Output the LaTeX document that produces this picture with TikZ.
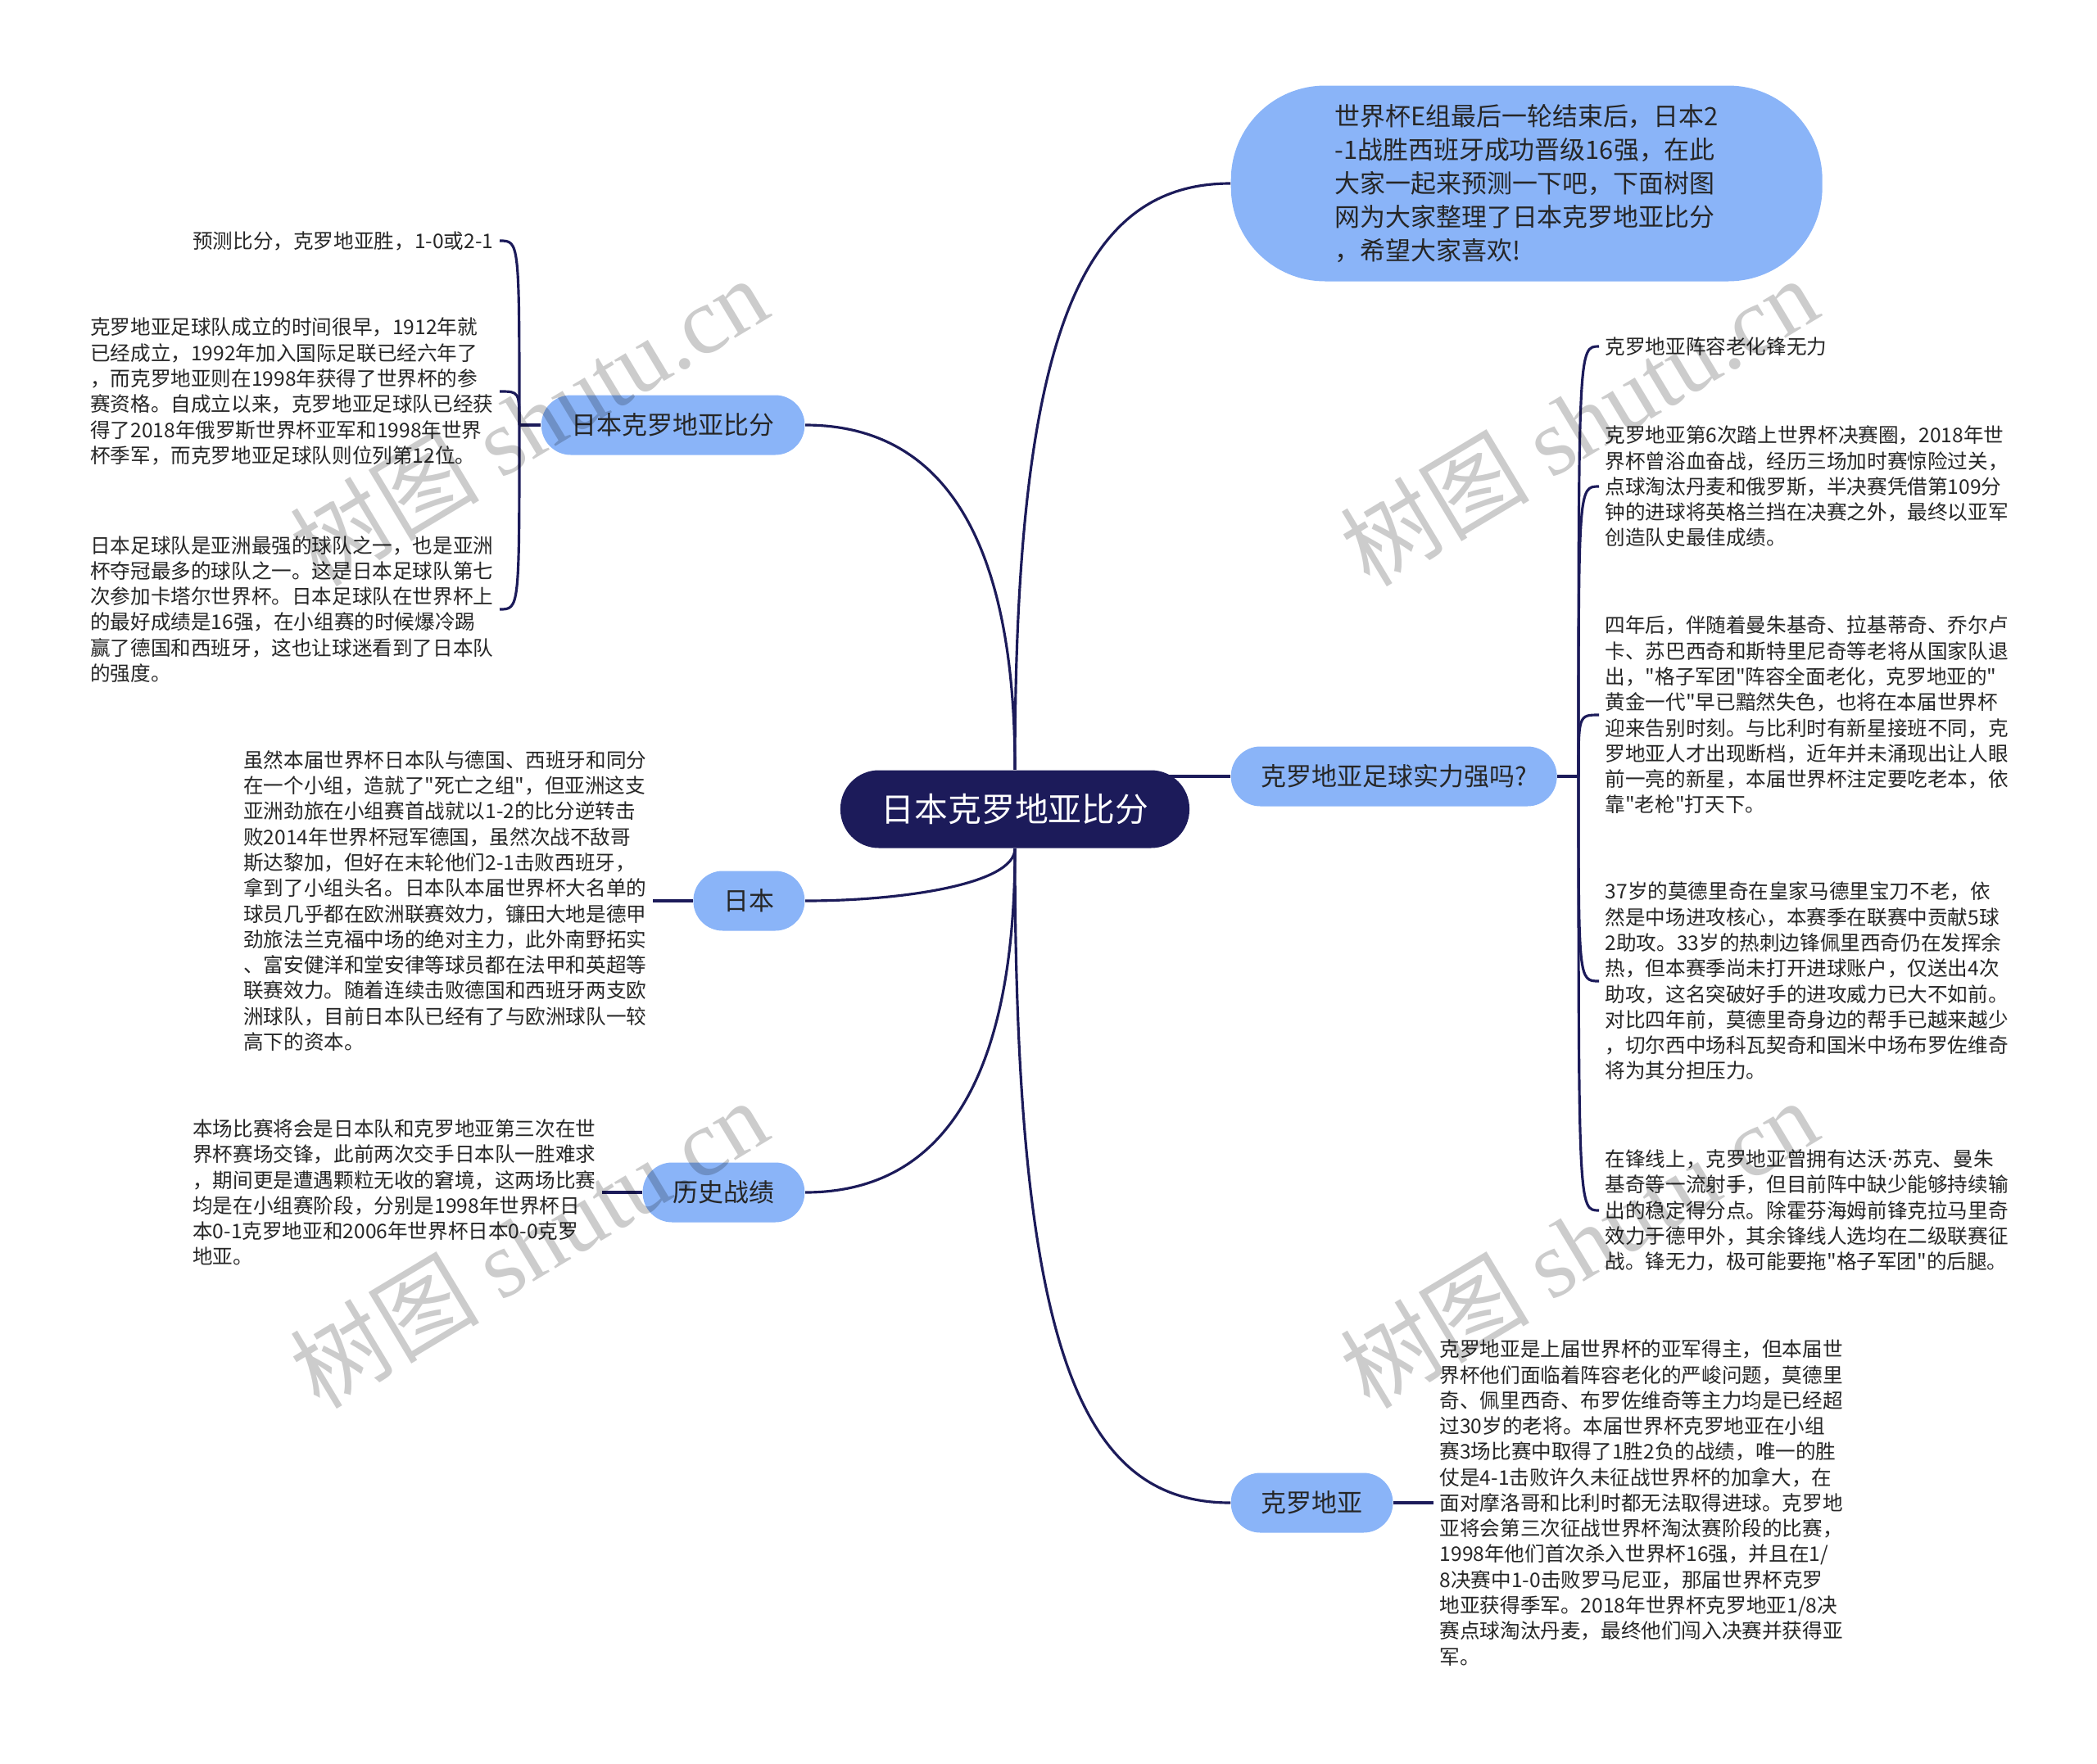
\documentclass[tikz,border=0pt]{standalone}
\usepackage{fontspec}
\setmainfont{Noto Sans CJK SC}[Ligatures=TeXOff]
\newfontfamily\wmfont{Liberation Serif}
\newfontfamily\latinfont{Noto Sans}
\usepackage{xcolor}
\usetikzlibrary{positioning}
\definecolor{navy}{RGB}{28,27,90}
\definecolor{skyblue}{RGB}{138,180,248}

\begin{document}
\begin{tikzpicture}[
    font=\fontsize{7.0}{8.9}\selectfont,
    link/.style={draw=navy, line width=0.9pt},
    root/.style={fill=navy, text=white, rounded corners=0.47cm, minimum height=0.95cm, inner xsep=0.5cm, font=\fontsize{11.6}{14}\selectfont},
    branch/.style={fill=skyblue, text=black!85, rounded corners=0.36cm, minimum height=0.73cm, inner xsep=0.37cm, font=\fontsize{8.8}{10.5}\selectfont},
    intro/.style={fill=skyblue, text=black!85, rounded corners=1.15cm, minimum width=7.22cm, minimum height=2.39cm, align=left, font=\fontsize{8.8}{11.7}\selectfont},
    leaf/.style={align=left, text=black!85, inner sep=0.07cm},
    wmark/.style={text=black, text opacity=0.2, rotate=31, font=\fontsize{33}{33}\selectfont}
]
\useasboundingbox (0,0) rectangle (25.60,-21.53);

\node[root] (root) at (12.39,-9.88) {日本克罗地亚比分};
\node[intro, anchor=west] (intro) at (15.02,-2.24) {世界杯E组最后一轮结束后，日本2\\-1战胜西班牙成功晋级16强，在此\\大家一起来预测一下吧，下面树图\\网为大家整理了日本克罗地亚比分\\，希望大家喜欢!};
\node[branch, anchor=east] (b1) at (9.83,-5.19) {日本克罗地亚比分};
\node[branch, anchor=west] (b2) at (15.02,-9.48) {克罗地亚足球实力强吗?};
\node[branch, anchor=east] (b3) at (9.83,-11.00) {日本};
\node[branch, anchor=east] (b4) at (9.83,-14.56) {历史战绩};
\node[branch, anchor=west] (b5) at (15.02,-18.35) {克罗地亚};

\node[leaf, anchor=east] (l11) at (6.10,-2.94) {预测比分，克罗地亚胜，1-0或2-1};
\node[leaf, anchor=east] (l12) at (6.10,-4.78) {克罗地亚足球队成立的时间很早，1912年就\\已经成立，1992年加入国际足联已经六年了\\，而克罗地亚则在1998年获得了世界杯的参\\赛资格。自成立以来，克罗地亚足球队已经获\\得了2018年俄罗斯世界杯亚军和1998年世界\\杯季军，而克罗地亚足球队则位列第12位。};
\node[leaf, anchor=east] (l13) at (6.10,-7.44) {日本足球队是亚洲最强的球队之一，也是亚洲\\杯夺冠最多的球队之一。这是日本足球队第七\\次参加卡塔尔世界杯。日本足球队在世界杯上\\的最好成绩是16强，在小组赛的时候爆冷踢\\赢了德国和西班牙，这也让球迷看到了日本队\\的强度。};

\node[leaf, anchor=west] (l21) at (19.52,-4.23) {克罗地亚阵容老化锋无力};
\node[leaf, anchor=west] (l22) at (19.52,-5.94) {克罗地亚第6次踏上世界杯决赛圈，2018年世\\界杯曾浴血奋战，经历三场加时赛惊险过关，\\点球淘汰丹麦和俄罗斯，半决赛凭借第109分\\钟的进球将英格兰挡在决赛之外，最终以亚军\\创造队史最佳成绩。};
\node[leaf, anchor=west] (l23) at (19.52,-8.73) {四年后，伴随着曼朱基奇、拉基蒂奇、乔尔卢\\卡、苏巴西奇和斯特里尼奇等老将从国家队退\\出，"格子军团"阵容全面老化，克罗地亚的"\\黄金一代"早已黯然失色，也将在本届世界杯\\迎来告别时刻。与比利时有新星接班不同，克\\罗地亚人才出现断档，近年并未涌现出让人眼\\前一亮的新星，本届世界杯注定要吃老本，依\\靠"老枪"打天下。};
\node[leaf, anchor=west] (l24) at (19.52,-11.98) {37岁的莫德里奇在皇家马德里宝刀不老，依\\然是中场进攻核心，本赛季在联赛中贡献5球\\2助攻。33岁的热刺边锋佩里西奇仍在发挥余\\热，但本赛季尚未打开进球账户，仅送出4次\\助攻，这名突破好手的进攻威力已大不如前。\\对比四年前，莫德里奇身边的帮手已越来越少\\，切尔西中场科瓦契奇和国米中场布罗佐维奇\\将为其分担压力。};
\node[leaf, anchor=west] (l25) at (19.52,-14.78) {在锋线上，克罗地亚曾拥有达沃{\latinfont ·}苏克、曼朱\\基奇等一流射手，但目前阵中缺少能够持续输\\出的稳定得分点。除霍芬海姆前锋克拉马里奇\\效力于德甲外，其余锋线人选均在二级联赛征\\战。锋无力，极可能要拖"格子军团"的后腿。};

\node[leaf, anchor=east] (l31) at (7.97,-11.00) {虽然本届世界杯日本队与德国、西班牙和同分\\在一个小组，造就了"死亡之组"，但亚洲这支\\亚洲劲旅在小组赛首战就以1-2的比分逆转击\\败2014年世界杯冠军德国，虽然次战不敌哥\\斯达黎加，但好在末轮他们2-1击败西班牙，\\拿到了小组头名。日本队本届世界杯大名单的\\球员几乎都在欧洲联赛效力，镰田大地是德甲\\劲旅法兰克福中场的绝对主力，此外南野拓实\\、富安健洋和堂安律等球员都在法甲和英超等\\联赛效力。随着连续击败德国和西班牙两支欧\\洲球队，目前日本队已经有了与欧洲球队一较\\高下的资本。};
\node[leaf, anchor=east] (l41) at (7.35,-14.56) {本场比赛将会是日本队和克罗地亚第三次在世\\界杯赛场交锋，此前两次交手日本队一胜难求\\，期间更是遭遇颗粒无收的窘境，这两场比赛\\均是在小组赛阶段，分别是1998年世界杯日\\本0-1克罗地亚和2006年世界杯日本0-0克罗\\地亚。};
\node[leaf, anchor=west] (l51) at (17.50,-18.35) {克罗地亚是上届世界杯的亚军得主，但本届世\\界杯他们面临着阵容老化的严峻问题，莫德里\\奇、佩里西奇、布罗佐维奇等主力均是已经超\\过30岁的老将。本届世界杯克罗地亚在小组\\赛3场比赛中取得了1胜2负的战绩，唯一的胜\\仗是4-1击败许久未征战世界杯的加拿大，在\\面对摩洛哥和比利时都无法取得进球。克罗地\\亚将会第三次征战世界杯淘汰赛阶段的比赛，\\1998年他们首次杀入世界杯16强，并且在1/\\8决赛中1-0击败罗马尼亚，那届世界杯克罗\\地亚获得季军。2018年世界杯克罗地亚1/8决\\赛点球淘汰丹麦，最终他们闯入决赛并获得亚\\军。};

\coordinate (j1) at (6.34,-5.19);
\coordinate (j2) at (19.27,-9.48);

\draw[link] (root.north) .. controls (12.39,-4.10) and (13.20,-2.24) .. (intro.west);
\draw[link] (root.north) .. controls (12.39,-6.25) and (11.30,-5.19) .. (b1.east);
\draw[link] (b2.west) -- (b2.west -| root.center);
\draw[link] (root.south) .. controls (12.39,-10.80) and (11.00,-11.00) .. (b3.east);
\draw[link] (root.south) .. controls (12.39,-13.50) and (11.30,-14.56) .. (b4.east);
\draw[link] (root.south) .. controls (12.39,-16.50) and (13.20,-18.35) .. (b5.west);

\draw[link] (b1.west) -- (j1);
\foreach \l in {l11,l12,l13}
    \draw[link] (j1) .. controls (j1 |- \l.east) .. (\l.east);
\draw[link] (b2.east) -- (j2);
\foreach \l in {l21,l22,l23,l24,l25}
    \draw[link] (j2) .. controls (j2 |- \l.west) .. (\l.west);
\draw[link] (b3.west) -- (l31.east);
\draw[link] (b4.west) -- (l41.east);
\draw[link] (b5.east) -- (l51.west);

\node[wmark] (wm1) at (6.45,-5.14) {树图 {\wmfont shutu.cn}};
\node[wmark] (wm2) at (19.27,-5.14) {树图 {\wmfont shutu.cn}};
\node[wmark] (wm3) at (6.45,-15.18) {树图 {\wmfont shutu.cn}};
\node[wmark] (wm4) at (19.27,-15.18) {树图 {\wmfont shutu.cn}};
\end{tikzpicture}
\end{document}
